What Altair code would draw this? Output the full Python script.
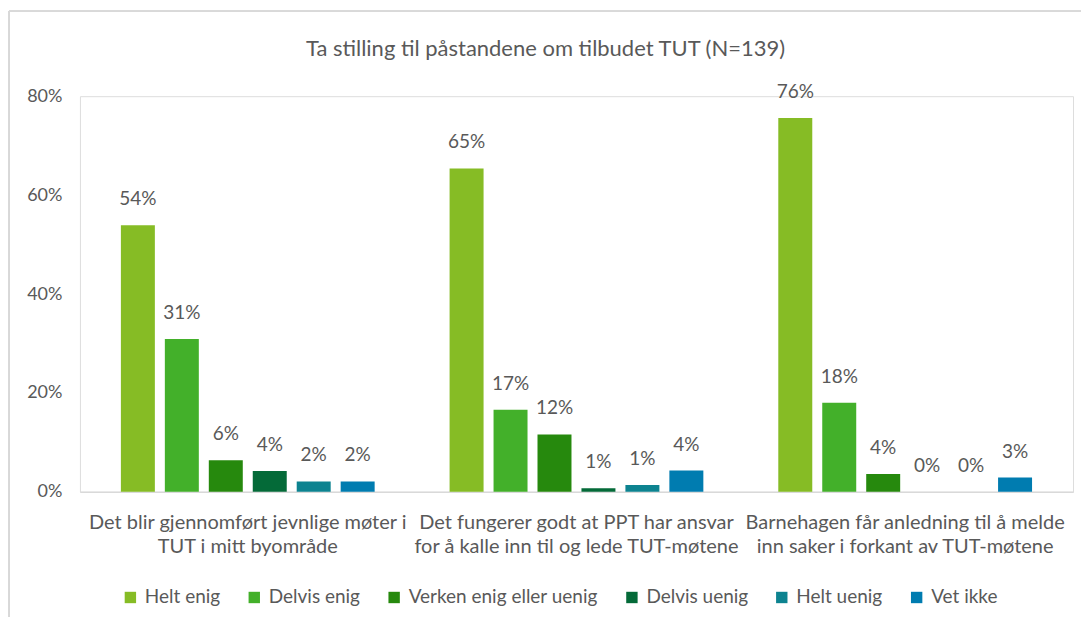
import altair as alt
import pandas as pd

questions = [
    "Det blir gjennomført jevnlige møter i|TUT i mitt byområde",
    "Det fungerer godt at PPT har ansvar|for å kalle inn til og lede TUT-møtene",
    "Barnehagen får anledning til å melde|inn saker i forkant av TUT-møtene",
]
responses = ["Helt enig", "Delvis enig", "Verken enig eller uenig", "Delvis uenig", "Helt uenig", "Vet ikke"]
colors = ["#86BC25", "#43B02A", "#26890D", "#046A38", "#0D8390", "#007CB0"]
title_text = "Ta stilling til påstandene om tilbudet TUT (N=139)"

q1 = [53.9, 30.9, 6.4, 4.2, 2.1, 2.1]
q2 = [65.4, 16.6, 11.6, 0.7, 1.4, 4.3]
q3 = [75.6, 18.0, 3.6, 0.0, 0.0, 2.9]

rows = []
for q, vals in zip(questions, [q1, q2, q3]):
    for r, v in zip(responses, vals):
        rows.append({"question": q, "response": r, "pct": v / 100})
df = pd.DataFrame(rows)

FONT = "Lato"
GREY = "#595959"

x_enc = alt.X("question:N", sort=questions, title=None,
              scale=alt.Scale(paddingInner=0.228, paddingOuter=0.1246),
              axis=alt.Axis(labelExpr="split(datum.label, '|')", labelAngle=0,
                            labelFontSize=20, labelColor=GREY, labelFont=FONT,
                            labelLineHeight=24, labelPadding=21, ticks=False,
                            labelLimit=0, domainColor="#d9d9d9", domainWidth=1.5))
xoff = alt.XOffset("response:N", sort=responses, scale=alt.Scale(paddingInner=0.227))
y_enc = alt.Y("pct:Q", title=None,
              scale=alt.Scale(domain=[0, 0.8]),
              axis=alt.Axis(values=[0, 0.2, 0.4, 0.6, 0.8], format=".0%", grid=False,
                            domain=False, ticks=False, labelFontSize=18, labelColor=GREY,
                            labelFont=FONT, labelPadding=18))

bars = alt.Chart(df).mark_bar().encode(
    x=x_enc, xOffset=xoff, y=y_enc,
    color=alt.Color("response:N", sort=responses,
                    scale=alt.Scale(domain=responses, range=colors),
                    legend=alt.Legend(title=None, orient="none", direction="horizontal",
                                      legendX=41, legendY=492, symbolType="square",
                                      symbolSize=130, symbolStrokeWidth=0,
                                      labelFontSize=19, labelFont=FONT, labelColor=GREY,
                                      labelLimit=0, columnPadding=24, labelOffset=5, columns=6)),
)

labels = alt.Chart(df).mark_text(baseline="bottom", dy=-16, fontSize=19, font=FONT, color=GREY).encode(
    x=alt.X("question:N", sort=questions), xOffset=xoff, y="pct:Q",
    text=alt.Text("pct:Q", format=".0%"),
)

title = alt.Chart(pd.DataFrame({"t": [title_text]})).mark_text(
    fontSize=22, font=FONT, color=GREY, baseline="alphabetic", align="center"
).encode(x=alt.value(466), y=alt.value(-40), text="t:N")

border_left = alt.Chart(df).mark_rule(color="#d9d9d9", strokeWidth=1.5).encode(
    x=alt.value(-71), y=alt.value(-85), y2=alt.value(540))
border_top = alt.Chart(df).mark_rule(color="#d9d9d9", strokeWidth=1.5).encode(
    x=alt.value(-71), x2=alt.value(1010), y=alt.value(-85))

chart = alt.layer(border_left, border_top, bars, labels, title).properties(
    width=994, height=396,
    padding={"left": 72, "top": 88, "right": 8, "bottom": 125},
    autosize=alt.AutoSizeParams(type="none"),
).configure_view(strokeWidth=0).configure(background="white")

chart.save("out.html", embed_options={"renderer": "svg", "actions": False})
